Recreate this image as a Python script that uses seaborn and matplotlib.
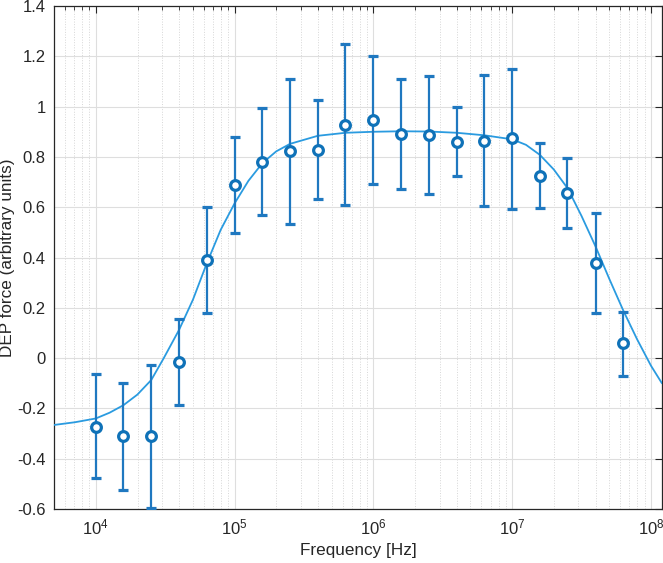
import numpy as np
import pandas as pd
import matplotlib
matplotlib.use("Agg")
import matplotlib.pyplot as plt
import matplotlib.ticker as mticker
import seaborn as sns

# measured points (frequency in Hz)
freq = [1e4, 1.58e4, 2.5e4, 4e4, 6.3e4, 1e5, 1.58e5, 2.5e5, 4e5, 6.3e5,
        1e6, 1.58e6, 2.5e6, 4e6, 6.3e6, 1e7, 1.58e7, 2.5e7, 4e7, 6.3e7]
force = [-0.272, -0.311, -0.311, -0.015, 0.390, 0.690, 0.780, 0.823, 0.827, 0.927,
         0.947, 0.892, 0.887, 0.859, 0.864, 0.874, 0.724, 0.658, 0.379, 0.059]
err_low = [-0.478, -0.524, -0.595, -0.187, 0.181, 0.497, 0.569, 0.534, 0.634, 0.609,
           0.691, 0.674, 0.651, 0.724, 0.605, 0.592, 0.596, 0.519, 0.179, -0.071]
err_high = [-0.064, -0.098, -0.029, 0.154, 0.601, 0.880, 0.994, 1.111, 1.026, 1.248,
            1.201, 1.110, 1.123, 0.997, 1.126, 1.151, 0.854, 0.794, 0.578, 0.182]

# fitted curve (log10 of frequency, force)
fit_logf = [3.697, 3.85, 4.0, 4.1, 4.2, 4.3, 4.4, 4.49, 4.6, 4.7, 4.8, 4.9, 5.0,
            5.1, 5.2, 5.3, 5.4, 5.6, 5.8, 6.0, 6.2, 6.4, 6.6, 6.8, 7.0, 7.1, 7.2,
            7.3, 7.4, 7.5, 7.6, 7.7, 7.8, 7.9, 8.0, 8.079]
fit_force = [-0.266, -0.255, -0.240, -0.217, -0.187, -0.145, -0.087, 0.000, 0.112,
             0.232, 0.377, 0.510, 0.615, 0.705, 0.775, 0.822, 0.852, 0.884, 0.896,
             0.900, 0.902, 0.901, 0.896, 0.886, 0.870, 0.848, 0.808, 0.750, 0.675,
             0.565, 0.445, 0.315, 0.190, 0.075, -0.030, -0.100]

y_ticks = [-0.6, -0.4, -0.2, 0, 0.2, 0.4, 0.6, 0.8, 1, 1.2, 1.4]

sns.set_theme(style="whitegrid")
plt.rcParams["font.family"] = ["Liberation Sans", "DejaVu Sans"]
plt.rcParams["mathtext.default"] = "regular"
plt.rcParams["axes.unicode_minus"] = False

fig = plt.figure(figsize=(6.63, 5.63), dpi=100)
ax = fig.add_axes([0.0814, 0.0959, 0.917, 0.8934])

fit = pd.DataFrame({"freq": [10 ** v for v in fit_logf], "force": fit_force})
sns.lineplot(data=fit, x="freq", y="force", ax=ax, color="#2a9be0", linewidth=1.3,
             zorder=3)

f = np.array(force)
yerr = [f - np.array(err_low), np.array(err_high) - f]
ax.errorbar(freq, force, yerr=yerr, fmt="o", color="#0f72b8", ecolor="#1f78c0",
            elinewidth=1.6, capsize=3.4, capthick=1.6, markersize=7,
            markerfacecolor="white", markeredgewidth=2.3, zorder=4)

ax.set_xscale("log")
ax.set_xlim(5e3, 1.2e8)
ax.set_ylim(-0.6, 1.4)
ax.set_yticks(y_ticks)
ax.yaxis.set_major_formatter(mticker.FuncFormatter(lambda v, p: "{:g}".format(round(v, 2))))
ax.xaxis.set_major_locator(mticker.LogLocator(base=10, numticks=10))
ax.xaxis.set_minor_locator(mticker.LogLocator(base=10, subs=np.arange(2, 10), numticks=20))
ax.xaxis.set_minor_formatter(mticker.NullFormatter())

ax.grid(True, which="major", color="#dedede", linewidth=0.8, linestyle="-")
ax.grid(True, which="minor", axis="x", color="#d6d6d6", linewidth=0.7, linestyle=":")
ax.set_axisbelow(True)

for s in ax.spines.values():
    s.set_visible(True)
    s.set_color("#262626")
    s.set_linewidth(0.9)
ax.tick_params(which="both", direction="in", top=True, right=True, colors="#262626",
               labelsize=12, pad=6)
ax.tick_params(which="major", length=5, width=0.8)
ax.tick_params(which="minor", length=3, width=0.6)

ax.set_xlabel("Frequency [Hz]", fontsize=12.3, color="#262626", labelpad=4)
ax.set_ylabel("DEP force (arbitrary units)", fontsize=12.3, color="#262626")
ax.yaxis.set_label_coords(-0.064, 0.5)

fig.savefig("out.png", dpi=100)
